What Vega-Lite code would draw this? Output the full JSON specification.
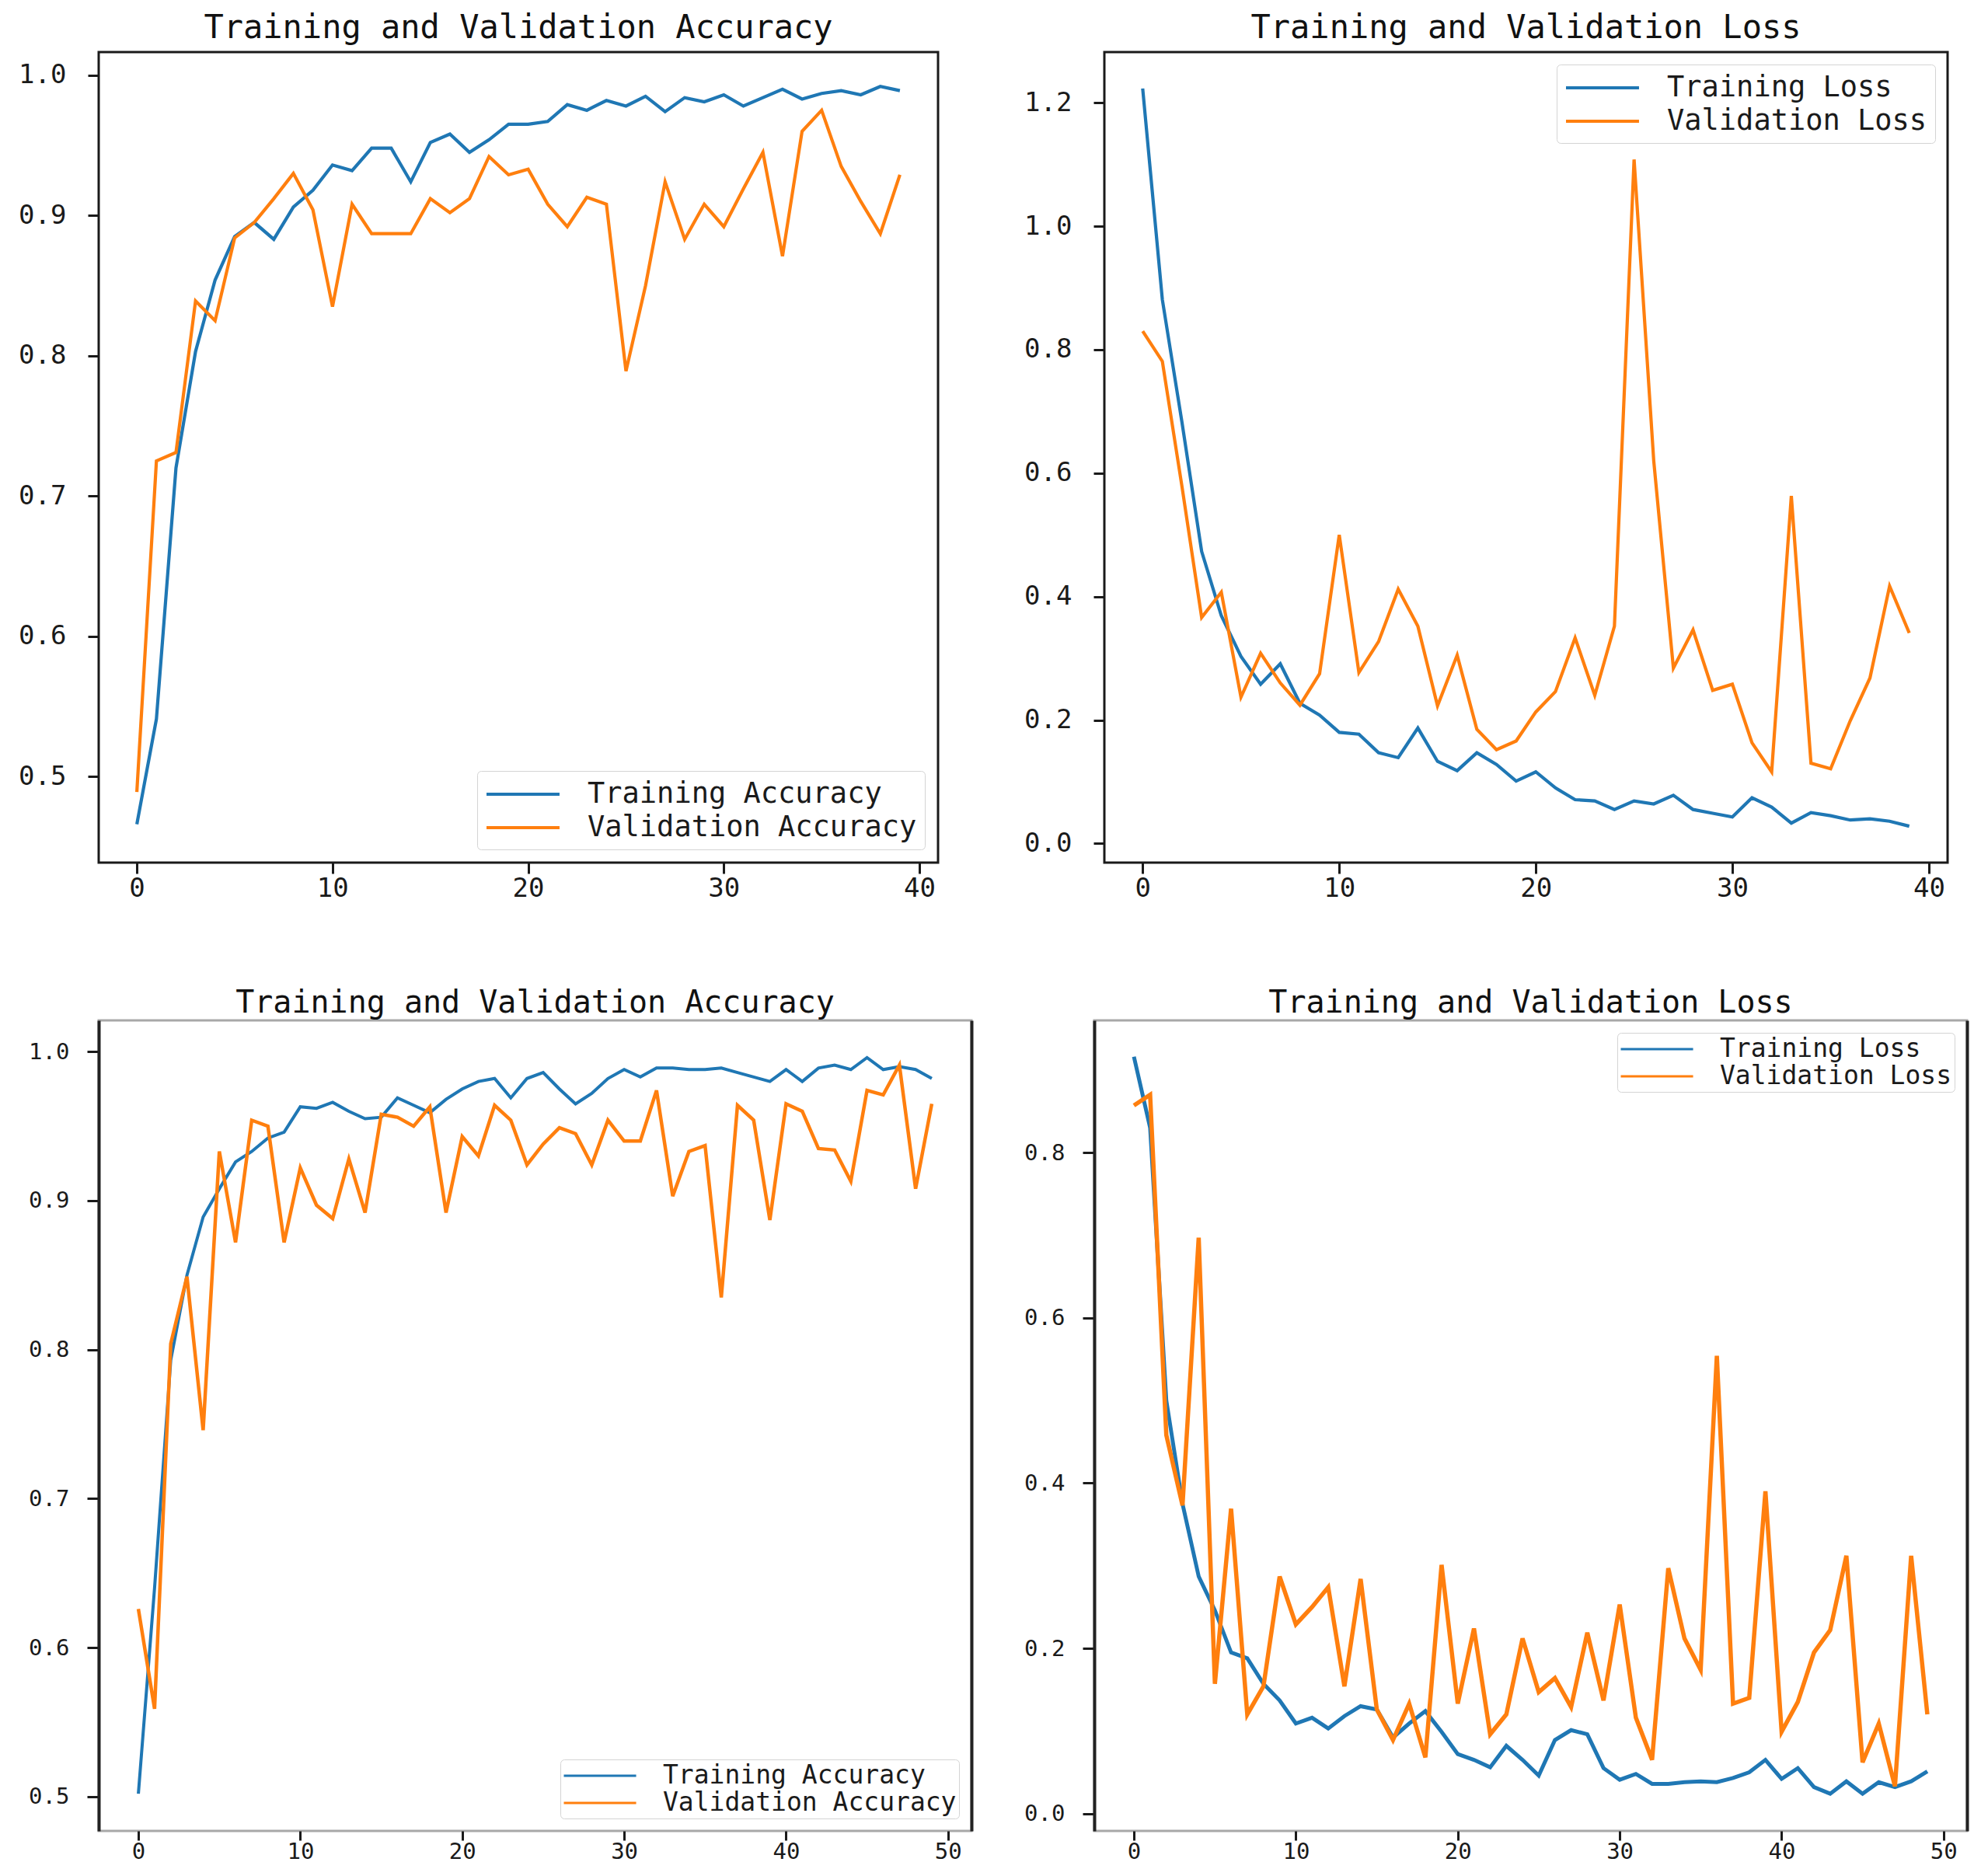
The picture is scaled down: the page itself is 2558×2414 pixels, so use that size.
{
  "$schema": "https://vega.github.io/schema/vega-lite/v6.json",
  "background": "white",
  "padding": {"left": 22, "top": 13, "right": 10, "bottom": 0},
  "config": {
    "font": "DejaVu Sans Mono",
    "view": {"stroke": "#1a1a1a", "strokeWidth": 3},
    "axis": {"grid": false, "domain": false, "ticks": true, "tickColor": "#1a1a1a", "tickWidth": 3, "tickSize": 14, "labelFontSize": 34, "labelColor": "#1a1a1a", "labelFont": "DejaVu Sans Mono", "title": null},
    "axisX": {"labelPadding": 2},
    "axisY": {"labelPadding": 28},
    "title": {"font": "DejaVu Sans Mono", "fontWeight": "normal", "color": "#111111", "anchor": "middle", "frame": "group"},
    "legend": {"symbolType": "M-1,0H4.22", "symbolStrokeWidth": 4, "symbolSize": 1296, "labelFontSize": 37, "labelFont": "DejaVu Sans Mono", "labelColor": "#1a1a1a", "labelOffset": 92, "labelLimit": 1000, "strokeColor": "#d4d4d4", "fillColor": "white", "cornerRadius": 5, "padding": 10, "rowPadding": 5, "title": null}
  },
  "datasets": {
    "acc1": [
      {"epoch":0,"series":"Training Accuracy","value":0.466},{"epoch":1,"series":"Training Accuracy","value":0.541},{"epoch":2,"series":"Training Accuracy","value":0.72},{"epoch":3,"series":"Training Accuracy","value":0.803},{"epoch":4,"series":"Training Accuracy","value":0.854},{"epoch":5,"series":"Training Accuracy","value":0.885},{"epoch":6,"series":"Training Accuracy","value":0.895},{"epoch":7,"series":"Training Accuracy","value":0.883},{"epoch":8,"series":"Training Accuracy","value":0.906},{"epoch":9,"series":"Training Accuracy","value":0.918},
      {"epoch":10,"series":"Training Accuracy","value":0.936},{"epoch":11,"series":"Training Accuracy","value":0.932},{"epoch":12,"series":"Training Accuracy","value":0.948},{"epoch":13,"series":"Training Accuracy","value":0.948},{"epoch":14,"series":"Training Accuracy","value":0.924},{"epoch":15,"series":"Training Accuracy","value":0.952},{"epoch":16,"series":"Training Accuracy","value":0.958},{"epoch":17,"series":"Training Accuracy","value":0.945},{"epoch":18,"series":"Training Accuracy","value":0.954},{"epoch":19,"series":"Training Accuracy","value":0.965},
      {"epoch":20,"series":"Training Accuracy","value":0.965},{"epoch":21,"series":"Training Accuracy","value":0.967},{"epoch":22,"series":"Training Accuracy","value":0.979},{"epoch":23,"series":"Training Accuracy","value":0.975},{"epoch":24,"series":"Training Accuracy","value":0.982},{"epoch":25,"series":"Training Accuracy","value":0.978},{"epoch":26,"series":"Training Accuracy","value":0.985},{"epoch":27,"series":"Training Accuracy","value":0.974},{"epoch":28,"series":"Training Accuracy","value":0.984},{"epoch":29,"series":"Training Accuracy","value":0.981},
      {"epoch":30,"series":"Training Accuracy","value":0.986},{"epoch":31,"series":"Training Accuracy","value":0.978},{"epoch":32,"series":"Training Accuracy","value":0.984},{"epoch":33,"series":"Training Accuracy","value":0.990},{"epoch":34,"series":"Training Accuracy","value":0.983},{"epoch":35,"series":"Training Accuracy","value":0.987},{"epoch":36,"series":"Training Accuracy","value":0.989},{"epoch":37,"series":"Training Accuracy","value":0.986},{"epoch":38,"series":"Training Accuracy","value":0.992},{"epoch":39,"series":"Training Accuracy","value":0.989},
      {"epoch":0,"series":"Validation Accuracy","value":0.489},{"epoch":1,"series":"Validation Accuracy","value":0.725},{"epoch":2,"series":"Validation Accuracy","value":0.731},{"epoch":3,"series":"Validation Accuracy","value":0.839},{"epoch":4,"series":"Validation Accuracy","value":0.825},{"epoch":5,"series":"Validation Accuracy","value":0.884},{"epoch":6,"series":"Validation Accuracy","value":0.895},{"epoch":7,"series":"Validation Accuracy","value":0.912},{"epoch":8,"series":"Validation Accuracy","value":0.930},{"epoch":9,"series":"Validation Accuracy","value":0.904},
      {"epoch":10,"series":"Validation Accuracy","value":0.835},{"epoch":11,"series":"Validation Accuracy","value":0.908},{"epoch":12,"series":"Validation Accuracy","value":0.887},{"epoch":13,"series":"Validation Accuracy","value":0.887},{"epoch":14,"series":"Validation Accuracy","value":0.887},{"epoch":15,"series":"Validation Accuracy","value":0.912},{"epoch":16,"series":"Validation Accuracy","value":0.902},{"epoch":17,"series":"Validation Accuracy","value":0.912},{"epoch":18,"series":"Validation Accuracy","value":0.942},{"epoch":19,"series":"Validation Accuracy","value":0.929},
      {"epoch":20,"series":"Validation Accuracy","value":0.933},{"epoch":21,"series":"Validation Accuracy","value":0.908},{"epoch":22,"series":"Validation Accuracy","value":0.892},{"epoch":23,"series":"Validation Accuracy","value":0.913},{"epoch":24,"series":"Validation Accuracy","value":0.908},{"epoch":25,"series":"Validation Accuracy","value":0.789},{"epoch":26,"series":"Validation Accuracy","value":0.850},{"epoch":27,"series":"Validation Accuracy","value":0.924},{"epoch":28,"series":"Validation Accuracy","value":0.883},{"epoch":29,"series":"Validation Accuracy","value":0.908},
      {"epoch":30,"series":"Validation Accuracy","value":0.892},{"epoch":31,"series":"Validation Accuracy","value":0.919},{"epoch":32,"series":"Validation Accuracy","value":0.945},{"epoch":33,"series":"Validation Accuracy","value":0.871},{"epoch":34,"series":"Validation Accuracy","value":0.960},{"epoch":35,"series":"Validation Accuracy","value":0.975},{"epoch":36,"series":"Validation Accuracy","value":0.935},{"epoch":37,"series":"Validation Accuracy","value":0.910},{"epoch":38,"series":"Validation Accuracy","value":0.887},{"epoch":39,"series":"Validation Accuracy","value":0.929}
    ],
    "loss1": [
      {"epoch":0,"series":"Training Loss","value":1.223},{"epoch":1,"series":"Training Loss","value":0.881},{"epoch":2,"series":"Training Loss","value":0.682},{"epoch":3,"series":"Training Loss","value":0.473},{"epoch":4,"series":"Training Loss","value":0.369},{"epoch":5,"series":"Training Loss","value":0.303},{"epoch":6,"series":"Training Loss","value":0.258},{"epoch":7,"series":"Training Loss","value":0.291},{"epoch":8,"series":"Training Loss","value":0.227},{"epoch":9,"series":"Training Loss","value":0.208},
      {"epoch":10,"series":"Training Loss","value":0.180},{"epoch":11,"series":"Training Loss","value":0.177},{"epoch":12,"series":"Training Loss","value":0.147},{"epoch":13,"series":"Training Loss","value":0.139},{"epoch":14,"series":"Training Loss","value":0.187},{"epoch":15,"series":"Training Loss","value":0.133},{"epoch":16,"series":"Training Loss","value":0.118},{"epoch":17,"series":"Training Loss","value":0.147},{"epoch":18,"series":"Training Loss","value":0.128},{"epoch":19,"series":"Training Loss","value":0.101},
      {"epoch":20,"series":"Training Loss","value":0.116},{"epoch":21,"series":"Training Loss","value":0.090},{"epoch":22,"series":"Training Loss","value":0.071},{"epoch":23,"series":"Training Loss","value":0.069},{"epoch":24,"series":"Training Loss","value":0.055},{"epoch":25,"series":"Training Loss","value":0.069},{"epoch":26,"series":"Training Loss","value":0.064},{"epoch":27,"series":"Training Loss","value":0.078},{"epoch":28,"series":"Training Loss","value":0.055},{"epoch":29,"series":"Training Loss","value":0.049},
      {"epoch":30,"series":"Training Loss","value":0.043},{"epoch":31,"series":"Training Loss","value":0.074},{"epoch":32,"series":"Training Loss","value":0.059},{"epoch":33,"series":"Training Loss","value":0.033},{"epoch":34,"series":"Training Loss","value":0.050},{"epoch":35,"series":"Training Loss","value":0.045},{"epoch":36,"series":"Training Loss","value":0.038},{"epoch":37,"series":"Training Loss","value":0.040},{"epoch":38,"series":"Training Loss","value":0.036},{"epoch":39,"series":"Training Loss","value":0.028},
      {"epoch":0,"series":"Validation Loss","value":0.830},{"epoch":1,"series":"Validation Loss","value":0.781},{"epoch":2,"series":"Validation Loss","value":0.578},{"epoch":3,"series":"Validation Loss","value":0.366},{"epoch":4,"series":"Validation Loss","value":0.407},{"epoch":5,"series":"Validation Loss","value":0.237},{"epoch":6,"series":"Validation Loss","value":0.308},{"epoch":7,"series":"Validation Loss","value":0.260},{"epoch":8,"series":"Validation Loss","value":0.224},{"epoch":9,"series":"Validation Loss","value":0.275},
      {"epoch":10,"series":"Validation Loss","value":0.500},{"epoch":11,"series":"Validation Loss","value":0.277},{"epoch":12,"series":"Validation Loss","value":0.327},{"epoch":13,"series":"Validation Loss","value":0.412},{"epoch":14,"series":"Validation Loss","value":0.352},{"epoch":15,"series":"Validation Loss","value":0.223},{"epoch":16,"series":"Validation Loss","value":0.305},{"epoch":17,"series":"Validation Loss","value":0.185},{"epoch":18,"series":"Validation Loss","value":0.152},{"epoch":19,"series":"Validation Loss","value":0.166},
      {"epoch":20,"series":"Validation Loss","value":0.213},{"epoch":21,"series":"Validation Loss","value":0.246},{"epoch":22,"series":"Validation Loss","value":0.333},{"epoch":23,"series":"Validation Loss","value":0.240},{"epoch":24,"series":"Validation Loss","value":0.352},{"epoch":25,"series":"Validation Loss","value":1.108},{"epoch":26,"series":"Validation Loss","value":0.62},{"epoch":27,"series":"Validation Loss","value":0.284},{"epoch":28,"series":"Validation Loss","value":0.346},{"epoch":29,"series":"Validation Loss","value":0.248},
      {"epoch":30,"series":"Validation Loss","value":0.258},{"epoch":31,"series":"Validation Loss","value":0.163},{"epoch":32,"series":"Validation Loss","value":0.116},{"epoch":33,"series":"Validation Loss","value":0.563},{"epoch":34,"series":"Validation Loss","value":0.130},{"epoch":35,"series":"Validation Loss","value":0.121},{"epoch":36,"series":"Validation Loss","value":0.199},{"epoch":37,"series":"Validation Loss","value":0.268},{"epoch":38,"series":"Validation Loss","value":0.417},{"epoch":39,"series":"Validation Loss","value":0.341}
    ],
    "acc2": [
      {"epoch":0,"series":"Training Accuracy","value":0.502},{"epoch":1,"series":"Training Accuracy","value":0.64},{"epoch":2,"series":"Training Accuracy","value":0.793},{"epoch":3,"series":"Training Accuracy","value":0.850},{"epoch":4,"series":"Training Accuracy","value":0.889},{"epoch":5,"series":"Training Accuracy","value":0.908},{"epoch":6,"series":"Training Accuracy","value":0.926},{"epoch":7,"series":"Training Accuracy","value":0.933},{"epoch":8,"series":"Training Accuracy","value":0.942},{"epoch":9,"series":"Training Accuracy","value":0.946},
      {"epoch":10,"series":"Training Accuracy","value":0.963},{"epoch":11,"series":"Training Accuracy","value":0.962},{"epoch":12,"series":"Training Accuracy","value":0.966},{"epoch":13,"series":"Training Accuracy","value":0.960},{"epoch":14,"series":"Training Accuracy","value":0.955},{"epoch":15,"series":"Training Accuracy","value":0.956},{"epoch":16,"series":"Training Accuracy","value":0.969},{"epoch":17,"series":"Training Accuracy","value":0.964},{"epoch":18,"series":"Training Accuracy","value":0.959},{"epoch":19,"series":"Training Accuracy","value":0.968},
      {"epoch":20,"series":"Training Accuracy","value":0.975},{"epoch":21,"series":"Training Accuracy","value":0.980},{"epoch":22,"series":"Training Accuracy","value":0.982},{"epoch":23,"series":"Training Accuracy","value":0.969},{"epoch":24,"series":"Training Accuracy","value":0.982},{"epoch":25,"series":"Training Accuracy","value":0.986},{"epoch":26,"series":"Training Accuracy","value":0.975},{"epoch":27,"series":"Training Accuracy","value":0.965},{"epoch":28,"series":"Training Accuracy","value":0.972},{"epoch":29,"series":"Training Accuracy","value":0.982},
      {"epoch":30,"series":"Training Accuracy","value":0.988},{"epoch":31,"series":"Training Accuracy","value":0.983},{"epoch":32,"series":"Training Accuracy","value":0.989},{"epoch":33,"series":"Training Accuracy","value":0.989},{"epoch":34,"series":"Training Accuracy","value":0.988},{"epoch":35,"series":"Training Accuracy","value":0.988},{"epoch":36,"series":"Training Accuracy","value":0.989},{"epoch":37,"series":"Training Accuracy","value":0.986},{"epoch":38,"series":"Training Accuracy","value":0.983},{"epoch":39,"series":"Training Accuracy","value":0.980},
      {"epoch":40,"series":"Training Accuracy","value":0.988},{"epoch":41,"series":"Training Accuracy","value":0.980},{"epoch":42,"series":"Training Accuracy","value":0.989},{"epoch":43,"series":"Training Accuracy","value":0.991},{"epoch":44,"series":"Training Accuracy","value":0.988},{"epoch":45,"series":"Training Accuracy","value":0.996},{"epoch":46,"series":"Training Accuracy","value":0.988},{"epoch":47,"series":"Training Accuracy","value":0.990},{"epoch":48,"series":"Training Accuracy","value":0.988},{"epoch":49,"series":"Training Accuracy","value":0.982},
      {"epoch":0,"series":"Validation Accuracy","value":0.626},{"epoch":1,"series":"Validation Accuracy","value":0.559},{"epoch":2,"series":"Validation Accuracy","value":0.804},{"epoch":3,"series":"Validation Accuracy","value":0.849},{"epoch":4,"series":"Validation Accuracy","value":0.746},{"epoch":5,"series":"Validation Accuracy","value":0.933},{"epoch":6,"series":"Validation Accuracy","value":0.872},{"epoch":7,"series":"Validation Accuracy","value":0.954},{"epoch":8,"series":"Validation Accuracy","value":0.950},{"epoch":9,"series":"Validation Accuracy","value":0.872},
      {"epoch":10,"series":"Validation Accuracy","value":0.922},{"epoch":11,"series":"Validation Accuracy","value":0.897},{"epoch":12,"series":"Validation Accuracy","value":0.888},{"epoch":13,"series":"Validation Accuracy","value":0.928},{"epoch":14,"series":"Validation Accuracy","value":0.892},{"epoch":15,"series":"Validation Accuracy","value":0.958},{"epoch":16,"series":"Validation Accuracy","value":0.956},{"epoch":17,"series":"Validation Accuracy","value":0.950},{"epoch":18,"series":"Validation Accuracy","value":0.963},{"epoch":19,"series":"Validation Accuracy","value":0.892},
      {"epoch":20,"series":"Validation Accuracy","value":0.943},{"epoch":21,"series":"Validation Accuracy","value":0.930},{"epoch":22,"series":"Validation Accuracy","value":0.964},{"epoch":23,"series":"Validation Accuracy","value":0.954},{"epoch":24,"series":"Validation Accuracy","value":0.924},{"epoch":25,"series":"Validation Accuracy","value":0.938},{"epoch":26,"series":"Validation Accuracy","value":0.949},{"epoch":27,"series":"Validation Accuracy","value":0.945},{"epoch":28,"series":"Validation Accuracy","value":0.924},{"epoch":29,"series":"Validation Accuracy","value":0.954},
      {"epoch":30,"series":"Validation Accuracy","value":0.940},{"epoch":31,"series":"Validation Accuracy","value":0.940},{"epoch":32,"series":"Validation Accuracy","value":0.974},{"epoch":33,"series":"Validation Accuracy","value":0.903},{"epoch":34,"series":"Validation Accuracy","value":0.933},{"epoch":35,"series":"Validation Accuracy","value":0.937},{"epoch":36,"series":"Validation Accuracy","value":0.835},{"epoch":37,"series":"Validation Accuracy","value":0.964},{"epoch":38,"series":"Validation Accuracy","value":0.954},{"epoch":39,"series":"Validation Accuracy","value":0.887},
      {"epoch":40,"series":"Validation Accuracy","value":0.965},{"epoch":41,"series":"Validation Accuracy","value":0.960},{"epoch":42,"series":"Validation Accuracy","value":0.935},{"epoch":43,"series":"Validation Accuracy","value":0.934},{"epoch":44,"series":"Validation Accuracy","value":0.913},{"epoch":45,"series":"Validation Accuracy","value":0.974},{"epoch":46,"series":"Validation Accuracy","value":0.971},{"epoch":47,"series":"Validation Accuracy","value":0.991},{"epoch":48,"series":"Validation Accuracy","value":0.908},{"epoch":49,"series":"Validation Accuracy","value":0.965}
    ],
    "loss2": [
      {"epoch":0,"series":"Training Loss","value":0.916},{"epoch":1,"series":"Training Loss","value":0.83},{"epoch":2,"series":"Training Loss","value":0.50},{"epoch":3,"series":"Training Loss","value":0.375},{"epoch":4,"series":"Training Loss","value":0.287},{"epoch":5,"series":"Training Loss","value":0.246},{"epoch":6,"series":"Training Loss","value":0.195},{"epoch":7,"series":"Training Loss","value":0.188},{"epoch":8,"series":"Training Loss","value":0.157},{"epoch":9,"series":"Training Loss","value":0.137},
      {"epoch":10,"series":"Training Loss","value":0.109},{"epoch":11,"series":"Training Loss","value":0.116},{"epoch":12,"series":"Training Loss","value":0.103},{"epoch":13,"series":"Training Loss","value":0.118},{"epoch":14,"series":"Training Loss","value":0.130},{"epoch":15,"series":"Training Loss","value":0.126},{"epoch":16,"series":"Training Loss","value":0.092},{"epoch":17,"series":"Training Loss","value":0.109},{"epoch":18,"series":"Training Loss","value":0.124},{"epoch":19,"series":"Training Loss","value":0.099},
      {"epoch":20,"series":"Training Loss","value":0.072},{"epoch":21,"series":"Training Loss","value":0.065},{"epoch":22,"series":"Training Loss","value":0.056},{"epoch":23,"series":"Training Loss","value":0.082},{"epoch":24,"series":"Training Loss","value":0.065},{"epoch":25,"series":"Training Loss","value":0.046},{"epoch":26,"series":"Training Loss","value":0.089},{"epoch":27,"series":"Training Loss","value":0.101},{"epoch":28,"series":"Training Loss","value":0.096},{"epoch":29,"series":"Training Loss","value":0.055},
      {"epoch":30,"series":"Training Loss","value":0.041},{"epoch":31,"series":"Training Loss","value":0.048},{"epoch":32,"series":"Training Loss","value":0.036},{"epoch":33,"series":"Training Loss","value":0.036},{"epoch":34,"series":"Training Loss","value":0.038},{"epoch":35,"series":"Training Loss","value":0.039},{"epoch":36,"series":"Training Loss","value":0.038},{"epoch":37,"series":"Training Loss","value":0.043},{"epoch":38,"series":"Training Loss","value":0.050},{"epoch":39,"series":"Training Loss","value":0.065},
      {"epoch":40,"series":"Training Loss","value":0.042},{"epoch":41,"series":"Training Loss","value":0.055},{"epoch":42,"series":"Training Loss","value":0.032},{"epoch":43,"series":"Training Loss","value":0.024},{"epoch":44,"series":"Training Loss","value":0.039},{"epoch":45,"series":"Training Loss","value":0.024},{"epoch":46,"series":"Training Loss","value":0.038},{"epoch":47,"series":"Training Loss","value":0.032},{"epoch":48,"series":"Training Loss","value":0.039},{"epoch":49,"series":"Training Loss","value":0.051},
      {"epoch":0,"series":"Validation Loss","value":0.857},{"epoch":1,"series":"Validation Loss","value":0.870},{"epoch":2,"series":"Validation Loss","value":0.458},{"epoch":3,"series":"Validation Loss","value":0.373},{"epoch":4,"series":"Validation Loss","value":0.697},{"epoch":5,"series":"Validation Loss","value":0.157},{"epoch":6,"series":"Validation Loss","value":0.369},{"epoch":7,"series":"Validation Loss","value":0.120},{"epoch":8,"series":"Validation Loss","value":0.154},{"epoch":9,"series":"Validation Loss","value":0.287},
      {"epoch":10,"series":"Validation Loss","value":0.229},{"epoch":11,"series":"Validation Loss","value":0.250},{"epoch":12,"series":"Validation Loss","value":0.274},{"epoch":13,"series":"Validation Loss","value":0.154},{"epoch":14,"series":"Validation Loss","value":0.284},{"epoch":15,"series":"Validation Loss","value":0.126},{"epoch":16,"series":"Validation Loss","value":0.089},{"epoch":17,"series":"Validation Loss","value":0.133},{"epoch":18,"series":"Validation Loss","value":0.068},{"epoch":19,"series":"Validation Loss","value":0.301},
      {"epoch":20,"series":"Validation Loss","value":0.133},{"epoch":21,"series":"Validation Loss","value":0.224},{"epoch":22,"series":"Validation Loss","value":0.096},{"epoch":23,"series":"Validation Loss","value":0.120},{"epoch":24,"series":"Validation Loss","value":0.212},{"epoch":25,"series":"Validation Loss","value":0.147},{"epoch":26,"series":"Validation Loss","value":0.164},{"epoch":27,"series":"Validation Loss","value":0.129},{"epoch":28,"series":"Validation Loss","value":0.219},{"epoch":29,"series":"Validation Loss","value":0.137},
      {"epoch":30,"series":"Validation Loss","value":0.253},{"epoch":31,"series":"Validation Loss","value":0.116},{"epoch":32,"series":"Validation Loss","value":0.065},{"epoch":33,"series":"Validation Loss","value":0.297},{"epoch":34,"series":"Validation Loss","value":0.212},{"epoch":35,"series":"Validation Loss","value":0.174},{"epoch":36,"series":"Validation Loss","value":0.554},{"epoch":37,"series":"Validation Loss","value":0.133},{"epoch":38,"series":"Validation Loss","value":0.140},{"epoch":39,"series":"Validation Loss","value":0.390},
      {"epoch":40,"series":"Validation Loss","value":0.099},{"epoch":41,"series":"Validation Loss","value":0.135},{"epoch":42,"series":"Validation Loss","value":0.195},{"epoch":43,"series":"Validation Loss","value":0.222},{"epoch":44,"series":"Validation Loss","value":0.312},{"epoch":45,"series":"Validation Loss","value":0.062},{"epoch":46,"series":"Validation Loss","value":0.109},{"epoch":47,"series":"Validation Loss","value":0.033},{"epoch":48,"series":"Validation Loss","value":0.312},{"epoch":49,"series":"Validation Loss","value":0.120}
    ]
  },
  "spacing": 107,
  "bounds": "full",
  "resolve": {"scale": {"color": "independent", "x": "independent", "y": "independent"}, "legend": {"color": "independent"}},
  "vconcat": [
    {
      "spacing": 214,
      "bounds": "flush",
      "resolve": {"scale": {"color": "independent", "x": "independent", "y": "independent"}, "legend": {"color": "independent"}},
      "hconcat": [
        {
          "width": 1080, "height": 1043,
          "title": {"text": "Training and Validation Accuracy", "fontSize": 42, "offset": 9},
          "data": {"name": "acc1"},
          "mark": {"type": "line", "strokeWidth": 4.2, "clip": true},
          "encoding": {
            "x": {"field": "epoch", "type": "quantitative", "scale": {"domain": [-1.95, 40.95], "nice": false, "zero": false}, "axis": {"values": [0, 10, 20, 30, 40], "format": "d"}},
            "y": {"field": "value", "type": "quantitative", "scale": {"domain": [0.4386, 1.0165], "nice": false, "zero": false}, "axis": {"values": [0.5, 0.6, 0.7, 0.8, 0.9, 1.0], "format": ".1f"}},
            "color": {"field": "series", "type": "nominal", "scale": {"domain": ["Training Accuracy", "Validation Accuracy"], "range": ["#1f77b4", "#ff7f0e"]}, "legend": {"orient": "bottom-right", "offset": 17}}
          }
        },
        {
          "width": 1085, "height": 1043,
          "title": {"text": "Training and Validation Loss", "fontSize": 42, "offset": 9},
          "data": {"name": "loss1"},
          "mark": {"type": "line", "strokeWidth": 4.2, "clip": true},
          "encoding": {
            "x": {"field": "epoch", "type": "quantitative", "scale": {"domain": [-1.95, 40.95], "nice": false, "zero": false}, "axis": {"values": [0, 10, 20, 30, 40], "format": "d"}},
            "y": {"field": "value", "type": "quantitative", "scale": {"domain": [-0.031, 1.282], "nice": false, "zero": false}, "axis": {"values": [0, 0.2, 0.4, 0.6, 0.8, 1.0, 1.2], "format": ".1f"}},
            "color": {"field": "series", "type": "nominal", "scale": {"domain": ["Training Loss", "Validation Loss"], "range": ["#1f77b4", "#ff7f0e"]}, "legend": {"orient": "top-right", "offset": 16}}
          }
        }
      ]
    },
    {
      "spacing": 158,
      "bounds": "flush",
      "resolve": {"scale": {"color": "independent", "x": "independent", "y": "independent"}, "legend": {"color": "independent"}},
      "hconcat": [
        {
          "width": 1123, "height": 1043,
          "title": {"text": "Training and Validation Accuracy", "fontSize": 40, "offset": 2},
          "view": {"stroke": "#a8a8a8", "strokeWidth": 3},
          "data": {"name": "acc2"},
          "encoding": {
            "x": {"field": "epoch", "type": "quantitative", "scale": {"domain": [-2.45, 51.45], "nice": false, "zero": false}, "axis": {"values": [0, 10, 20, 30, 40, 50], "format": "d", "labelFontSize": 29, "labelPadding": 0, "tickSize": 12}}
          },
          "layer": [
            {
              "mark": {"type": "line", "clip": true},
              "encoding": {
                "y": {"field": "value", "type": "quantitative", "scale": {"domain": [0.477, 1.021], "nice": false, "zero": false}, "axis": {"values": [0.5, 0.6, 0.7, 0.8, 0.9, 1.0], "format": ".1f", "labelFontSize": 29, "labelPadding": 23, "tickSize": 15, "domain": true, "domainColor": "#222222", "domainWidth": 4}},
                "color": {"field": "series", "type": "nominal", "scale": {"domain": ["Training Accuracy", "Validation Accuracy"], "range": ["#1f77b4", "#ff7f0e"]}, "legend": {"orient": "bottom-right", "offset": 16, "labelFontSize": 33, "symbolSize": 1089, "symbolType": "M-1,0H4.64", "labelOffset": 93, "padding": 3, "rowPadding": -4, "symbolStrokeWidth": 3}},
                "strokeWidth": {"field": "series", "type": "nominal", "scale": {"domain": ["Training Accuracy", "Validation Accuracy"], "range": [4, 5.5]}, "legend": null}
              }
            },
            {
              "mark": {"type": "line", "opacity": 0},
              "encoding": {
                "y": {"field": "value", "type": "quantitative", "scale": {"domain": [0.477, 1.021], "nice": false, "zero": false}, "axis": {"orient": "right", "labels": false, "ticks": false, "domain": true, "domainColor": "#222222", "domainWidth": 4}}
              }
            }
          ],
          "resolve": {"axis": {"y": "independent"}}
        },
        {
          "width": 1123, "height": 1043,
          "title": {"text": "Training and Validation Loss", "fontSize": 40, "offset": 2},
          "view": {"stroke": "#a8a8a8", "strokeWidth": 3},
          "data": {"name": "loss2"},
          "encoding": {
            "x": {"field": "epoch", "type": "quantitative", "scale": {"domain": [-2.45, 51.45], "nice": false, "zero": false}, "axis": {"values": [0, 10, 20, 30, 40, 50], "format": "d", "labelFontSize": 29, "labelPadding": 0, "tickSize": 12}}
          },
          "layer": [
            {
              "mark": {"type": "line", "clip": true},
              "encoding": {
                "y": {"field": "value", "type": "quantitative", "scale": {"domain": [-0.021, 0.960], "nice": false, "zero": false}, "axis": {"values": [0, 0.2, 0.4, 0.6, 0.8], "format": ".1f", "labelFontSize": 29, "labelPadding": 23, "tickSize": 15, "domain": true, "domainColor": "#222222", "domainWidth": 4}},
                "color": {"field": "series", "type": "nominal", "scale": {"domain": ["Training Loss", "Validation Loss"], "range": ["#1f77b4", "#ff7f0e"]}, "legend": {"orient": "top-right", "offset": 16, "labelFontSize": 33, "symbolSize": 1089, "symbolType": "M-1,0H4.64", "labelOffset": 93, "padding": 3, "rowPadding": -4, "symbolStrokeWidth": 3}},
                "strokeWidth": {"field": "series", "type": "nominal", "scale": {"domain": ["Training Loss", "Validation Loss"], "range": [4, 5.5]}, "legend": null}
              }
            },
            {
              "mark": {"type": "line", "opacity": 0},
              "encoding": {
                "y": {"field": "value", "type": "quantitative", "scale": {"domain": [-0.021, 0.960], "nice": false, "zero": false}, "axis": {"orient": "right", "labels": false, "ticks": false, "domain": true, "domainColor": "#222222", "domainWidth": 4}}
              }
            }
          ],
          "resolve": {"axis": {"y": "independent"}}
        }
      ]
    }
  ]
}
